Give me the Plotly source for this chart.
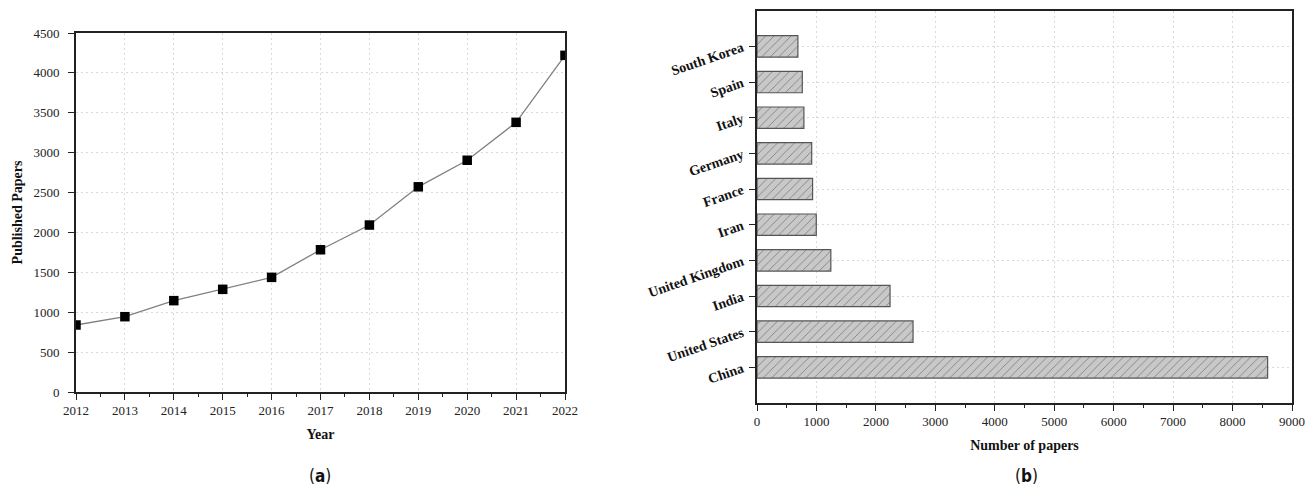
import plotly.graph_objects as go

# ---- data: (a) published papers per year ----
years = [2012, 2013, 2014, 2015, 2016, 2017, 2018, 2019, 2020, 2021, 2022]
papers = [840, 944, 1145, 1287, 1437, 1783, 2093, 2572, 2905, 3380, 4220]

# ---- data: (b) number of papers per country ----
countries = ["China", "United States", "India", "United Kingdom", "Iran",
             "France", "Germany", "Italy", "Spain", "South Korea"]
country_papers = [8590, 2625, 2238, 1242, 997, 935, 920, 789, 762, 688]

x_ticks_a = years
y_ticks_a = [0, 500, 1000, 1500, 2000, 2500, 3000, 3500, 4000, 4500]
x_ticks_b = [0, 1000, 2000, 3000, 4000, 5000, 6000, 7000, 8000, 9000]

W, H = 1306, 491
SERIF = "Liberation Serif, Times New Roman, serif"

fig = go.Figure()

fig.add_trace(go.Scatter(
    x=years, y=papers, mode="lines+markers",
    line=dict(color="#808080", width=1.3),
    marker=dict(symbol="square", size=9.5, color="black"),
    xaxis="x", yaxis="y", showlegend=False, cliponaxis=True,
))

fig.add_trace(go.Bar(
    x=country_papers, y=countries, orientation="h", width=0.6,
    marker=dict(
        color="#c8c8c8",
        line=dict(color="#555555", width=1.2),
        pattern=dict(shape="/", fgcolor="#3c3c3c", bgcolor="#c8c8c8",
                     size=6, solidity=0.15),
    ),
    xaxis="x2", yaxis="y2", showlegend=False,
))

def px_x(p):
    return p / W

def px_y(p):
    return 1 - p / H

grid = dict(showgrid=True, gridcolor="#d9d9d9", gridwidth=1, griddash="2px,3px")
line = dict(showline=True, linecolor="#222", linewidth=1.6, mirror=True,
            zeroline=False, automargin=False)
tickfont = dict(family=SERIF, size=13, color="#222")
titlefont = dict(family=SERIF, size=14, color="#111", weight="bold")

fig.update_layout(
    width=W, height=H,
    margin=dict(l=0, r=0, t=0, b=0),
    paper_bgcolor="white", plot_bgcolor="white",
    font=dict(family=SERIF, size=13, color="#222"),
    xaxis=dict(
        domain=[px_x(76), px_x(565)], anchor="y",
        range=[2012, 2022], tickvals=x_ticks_a,
        ticks="outside", ticklen=6, tickwidth=1.4, tickcolor="#222",
        minor=dict(ticks="outside", ticklen=3, tickwidth=1.4, tickcolor="#222",
                   dtick=0.5, showgrid=False),
        tickfont=tickfont,
        title=dict(text="Year", font=titlefont, standoff=12),
        **grid, **line,
    ),
    yaxis=dict(
        domain=[px_y(392), px_y(33)], anchor="x",
        range=[0, 4500], tickvals=y_ticks_a,
        ticks="outside", ticklen=6, tickwidth=1.4, tickcolor="#222",
        ticklabelstandoff=6,
        tickfont=tickfont,
        title=dict(text="Published Papers", font=titlefont, standoff=8),
        **grid, **line,
    ),
    xaxis2=dict(
        domain=[px_x(757), px_x(1292)], anchor="y2",
        range=[0, 9000], tickvals=x_ticks_b,
        ticks="outside", ticklen=6, tickwidth=1.4, tickcolor="#222",
        minor=dict(ticks="outside", ticklen=3, tickwidth=1.4, tickcolor="#222",
                   dtick=500, showgrid=False),
        tickfont=tickfont,
        title=dict(text="Number of papers", font=titlefont, standoff=12),
        **grid, **line,
    ),
    yaxis2=dict(
        domain=[px_y(403), px_y(10.7)], anchor="x2",
        type="category", range=[-1, 10],
        ticks="outside", ticklen=6, tickwidth=1.4, tickcolor="#222",
        tickangle=-19, ticklabelstandoff=4,
        tickfont=dict(family=SERIF, size=14, color="#111", weight="bold"),
        **grid, **line,
    ),
    annotations=[
        dict(text="(<b>a</b>)", x=px_x(320), y=px_y(476), xref="paper", yref="paper",
             xanchor="center", yanchor="middle", showarrow=False,
             font=dict(family="DejaVu Sans Condensed, DejaVu Sans", size=17, color="#111")),
        dict(text="(<b>b</b>)", x=px_x(1026), y=px_y(476), xref="paper", yref="paper",
             xanchor="center", yanchor="middle", showarrow=False,
             font=dict(family="DejaVu Sans Condensed, DejaVu Sans", size=17, color="#111")),
    ],
)

fig.write_html("out.html", config={"displayModeBar": False},
               post_script="document.body.style.margin='0';")
